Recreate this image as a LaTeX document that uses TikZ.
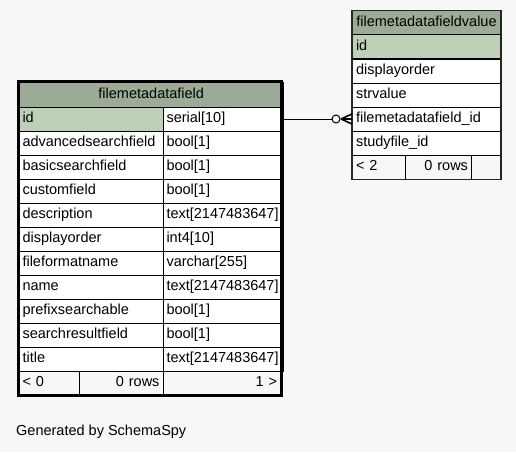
\documentclass[tikz,border=0pt]{standalone}
\usepackage{fontspec}
\setmainfont{Liberation Sans}
\usetikzlibrary{calc}
\definecolor{bgc}{HTML}{F7F7F7}
\definecolor{hdrc}{HTML}{9BAB96}
\definecolor{pkc}{HTML}{BED1B8}
\newcommand\cellfont{\fontsize{14.5}{16}\selectfont}
\tikzset{
  cellbox/.style={draw=black, line width=1pt, fill=white, minimum height=24pt,
    inner xsep=3.5pt, inner ysep=0pt, anchor=north west, font=\cellfont, align=left,
    text height=10.5pt, text depth=3.5pt},
  hdrbox/.style={cellbox, fill=hdrc, align=center},
  pkbox/.style={cellbox, fill=pkc},
  footbox/.style={cellbox, fill=bgc},
  thickborder/.style={draw=black, line width=3pt},
  thinborder/.style={draw=black!85, line width=1.6pt},
  relline/.style={draw=black, line width=1pt},
  crow/.style={draw=black, line width=1.6pt},
}
\begin{document}
\begin{tikzpicture}[x=1pt,y=-1pt]
\fill[bgc] (0,0) rectangle (516,452);
\useasboundingbox (0,0) rectangle (516,452);

% ---- left table: filemetadatafield ----
\node[hdrbox, text width=257.5pt, minimum height=25pt] (lh) at (18.5,81.5) {filemetadatafield};
\node[pkbox, text width=137pt] (lidn) at (18.5,106.5) {id};
\node[cellbox, text width=113.5pt] (lidt) at (162.5,106.5) {serial[10]};
\node[cellbox, text width=137pt] (l1n) at (18.5,130.5) {advancedsearchfield};
\node[cellbox, text width=113.5pt] (l1t) at (162.5,130.5) {bool[1]};
\node[cellbox, text width=137pt] (l2n) at (18.5,154.5) {basicsearchfield};
\node[cellbox, text width=113.5pt] (l2t) at (162.5,154.5) {bool[1]};
\node[cellbox, text width=137pt] (l3n) at (18.5,178.5) {customfield};
\node[cellbox, text width=113.5pt] (l3t) at (162.5,178.5) {bool[1]};
\node[cellbox, text width=137pt] (l4n) at (18.5,202.5) {description};
\node[cellbox, text width=113.5pt] (l4t) at (162.5,202.5) {text[2147483647]};
\node[cellbox, text width=137pt] (l5n) at (18.5,226.5) {displayorder};
\node[cellbox, text width=113.5pt] (l5t) at (162.5,226.5) {int4[10]};
\node[cellbox, text width=137pt] (l6n) at (18.5,250.5) {fileformatname};
\node[cellbox, text width=113.5pt] (l6t) at (162.5,250.5) {varchar[255]};
\node[cellbox, text width=137pt] (l7n) at (18.5,274.5) {name};
\node[cellbox, text width=113.5pt] (l7t) at (162.5,274.5) {text[2147483647]};
\node[cellbox, text width=137pt] (l8n) at (18.5,298.5) {prefixsearchable};
\node[cellbox, text width=113.5pt] (l8t) at (162.5,298.5) {bool[1]};
\node[cellbox, text width=137pt] (l9n) at (18.5,322.5) {searchresultfield};
\node[cellbox, text width=113.5pt] (l9t) at (162.5,322.5) {bool[1]};
\node[cellbox, text width=137pt] (l10n) at (18.5,346.5) {title};
\node[cellbox, text width=113.5pt] (l10t) at (162.5,346.5) {text[2147483647]};
\node[footbox, text width=53pt] (lf1) at (18.5,370.5) {< 0};
\node[footbox, text width=77pt, align=right] (lf2) at (78.5,370.5) {0 rows};
\node[footbox, text width=110.5pt, align=right] (lf3) at (162.5,370.5) {1 >\hspace*{3pt}};
\draw[thickborder] (lh.north west) rectangle (lf3.south east);

% ---- right table: filemetadatafieldvalue ----
\node[hdrbox, text width=141pt] (rh) at (352,10.5) {filemetadatafieldvalue};
\node[pkbox, text width=141pt] (rid) at (352,34.5) {id};
\node[cellbox, text width=141pt] (r1) at (352,58.5) {displayorder};
\node[cellbox, text width=141pt] (r2) at (352,82.5) {strvalue};
\node[cellbox, text width=141pt] (rfk) at (352,106.5) {filemetadatafield\_id};
\node[cellbox, text width=141pt] (r4) at (352,130.5) {studyfile\_id};
\node[footbox, text width=46pt] (rf1) at (352,154.5) {< 2};
\node[footbox, text width=59pt, align=right] (rf2) at (405,154.5) {0 rows};
\node[footbox, text width=22pt] (rf3) at (471,154.5) {};
\draw[thinborder] (rh.north west) rectangle (rf3.south east);

% ---- relationship ----
\coordinate (cf) at ($(rfk.west)+(-11,0)$);
\draw[relline] (lidt.east) -- ($(rfk.west)+(-20,0)$);
\draw[relline, fill=bgc] ($(rfk.west)+(-16,0)$) circle (4pt);
\draw[crow] (cf) -- ($(rfk.west)+(0,-5)$);
\draw[crow] (cf) -- (rfk.west);
\draw[crow] (cf) -- ($(rfk.west)+(0,5)$);

% ---- footer text ----
\node[anchor=west, font=\cellfont, inner sep=0pt] (gen) at (16,432) {Generated by SchemaSpy};
\end{tikzpicture}
\end{document}
